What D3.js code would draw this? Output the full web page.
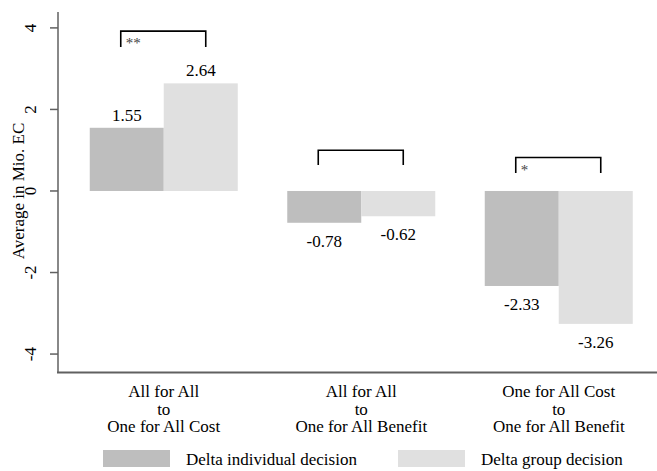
<!DOCTYPE html>
<html>
<head>
<meta charset="utf-8">
<script src="https://cdn.jsdelivr.net/npm/d3@7"></script>
<style>
  body { margin: 0; background: #fff; }
  svg { display: block; font-family: "Liberation Serif", "Times New Roman", serif; }
</style>
</head>
<body>
<script>
// data
const categories = [
  ["All for All", "to", "One for All Cost"],
  ["All for All", "to", "One for All Benefit"],
  ["One for All Cost", "to", "One for All Benefit"]
];
const series = ["Delta individual decision", "Delta group decision"];
const individual = [1.55, -0.78, -2.33];
const group = [2.64, -0.62, -3.26];
const yTicks = [-4, -2, 0, 2, 4];
// significance brackets: [top, leg bottom] in data units, and stars
const bracketTop = [3.92, 1.0, 0.82];
const bracketLeg = [3.53, 0.64, 0.44];
const stars = ["**", "", "*"];

const width = 657, height = 471;
const colors = ["#bebebe", "#e0e0e0"];

const svg = d3.select("body").append("svg")
    .attr("width", width)
    .attr("height", height);

const y = d3.scaleLinear()
    .domain([-4.44, 4.39])
    .range([372, 12]);

const x0 = d3.scaleBand()
    .domain(d3.range(categories.length))
    .range([65, 657.5]);

const barW = 74;
const x1 = d3.scaleBand()
    .domain(series)
    .range([0, barW * 2]);
const off = (x0.bandwidth() - barW * 2) / 2;

const data = categories.map((c, i) => ({i, values: [individual[i], group[i]]}));

// bars
const g = svg.append("g")
  .selectAll("g")
  .data(data)
  .join("g")
    .attr("transform", d => `translate(${x0(d.i) + off},0)`);

g.selectAll("rect")
  .data(d => d.values.map((v, k) => ({v, k})))
  .join("rect")
    .attr("x", d => x1(series[d.k]))
    .attr("width", x1.bandwidth())
    .attr("y", d => y(Math.max(0, d.v)))
    .attr("height", d => Math.abs(y(d.v) - y(0)))
    .attr("fill", d => colors[d.k]);

g.selectAll("text.val")
  .data(d => d.values.map((v, k) => ({v, k})))
  .join("text")
    .attr("class", "val")
    .attr("x", d => x1(series[d.k]) + x1.bandwidth() / 2)
    .attr("y", d => d.v >= 0 ? y(d.v) - 7 : y(d.v) + 24)
    .attr("text-anchor", "middle")
    .attr("font-size", 17)
    .text(d => d.v.toFixed(2));

// brackets
g.append("path")
    .attr("fill", "none")
    .attr("stroke", "#000")
    .attr("stroke-width", 1.6)
    .attr("d", d => {
      const a = x1(series[0]) + x1.bandwidth() / 2 - 6;
      const b = x1(series[1]) + x1.bandwidth() / 2 + 5;
      return `M${a},${y(bracketLeg[d.i])}V${y(bracketTop[d.i])}H${b}V${y(bracketLeg[d.i])}`;
    });

g.append("text")
    .attr("x", x1(series[0]) + x1.bandwidth() / 2 - 1)
    .attr("y", d => y(bracketTop[d.i]) + 17)
    .attr("font-size", 15)
    .attr("fill", "#444")
    .text(d => stars[d.i]);

// y axis
const yAxis = svg.append("g")
    .attr("transform", "translate(58,0)");
yAxis.append("line")
    .attr("y1", 12).attr("y2", 372)
    .attr("stroke", "#606060").attr("stroke-width", 1.5);
const tick = yAxis.selectAll("g.tick")
  .data(yTicks)
  .join("g")
    .attr("class", "tick")
    .attr("transform", d => `translate(0,${y(d)})`);
tick.append("line")
    .attr("x1", -8).attr("x2", 0)
    .attr("stroke", "#606060").attr("stroke-width", 1.5);
tick.append("text")
    .attr("transform", "translate(-28,0) rotate(-90)")
    .attr("text-anchor", "middle")
    .attr("dy", "0.35em")
    .attr("font-size", 17)
    .text(d => d);

svg.append("text")
    .attr("transform", `translate(24,${y(0)}) rotate(-90)`)
    .attr("text-anchor", "middle")
    .attr("font-size", 17)
    .text("Average in Mio. EC");

// x axis line
svg.append("line")
    .attr("x1", 57).attr("x2", width)
    .attr("y1", 372.5).attr("y2", 372.5)
    .attr("stroke", "#606060").attr("stroke-width", 1.8);

// category labels
svg.append("g")
  .selectAll("text")
  .data(categories)
  .join("text")
    .attr("text-anchor", "middle")
    .attr("font-size", 17)
  .selectAll("tspan")
  .data((c, i) => c.map(t => ({t, i})))
  .join("tspan")
    .attr("x", d => x0(d.i) + x0.bandwidth() / 2)
    .attr("y", (d, j) => 397 + j * 17.5)
    .text(d => d.t);

// legend
const legX = [103, 398];
const leg = svg.append("g")
  .selectAll("g")
  .data(series)
  .join("g")
    .attr("transform", (d, i) => `translate(${legX[i]},450)`);
leg.append("rect")
    .attr("width", 67).attr("height", 17)
    .attr("fill", (d, i) => colors[i]);
leg.append("text")
    .attr("x", 83).attr("y", 15)
    .attr("font-size", 17)
    .text(d => d);
</script>
</body>
</html>
